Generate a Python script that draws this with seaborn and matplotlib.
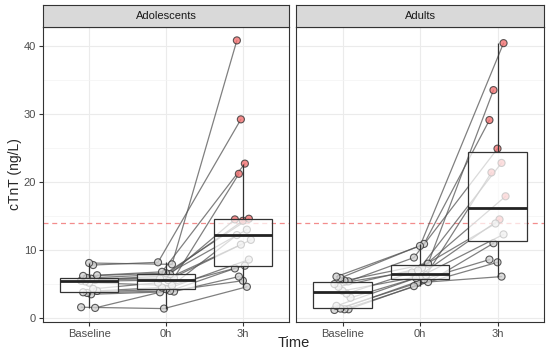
import numpy as np
import pandas as pd
import seaborn as sns
import matplotlib.pyplot as plt

groups = ['Adolescents', 'Adults']
times = ['Baseline', '0h', '3h']
cutoff = 14

# one entry per subject
ado_baseline = [1.6, 1.5, 3.5, 3.7, 3.8, 4.0, 4.3, 5.2, 5.4, 5.5, 5.6, 5.8, 5.9, 6.2, 6.3, 7.8, 8.1]
ado_0h = [1.4, 3.8, 3.9, 4.0, 4.25, 4.5, 5.2, 4.8, 5.6, 6.2, 5.8, 5.9, 6.45, 6.6, 6.8, 8.2, 7.9]
ado_3h = [4.6, 5.5, 6.1, 7.3, 8.6, 7.7, 10.8, 12.2, 11.5, 13.0, 14.3, 21.2, 14.5, 14.6, 22.7, 29.2, 40.8]

adu_baseline = [1.2, 1.3, 1.3, 1.4, 1.8, 3.0, 3.6, 4.0, 4.6, 5.0, 5.4, 5.5, 5.9, 6.1]
adu_0h = [5.2, 4.7, 5.3, 5.7, 6.1, 5.9, 6.7, 6.3, 7.4, 7.0, 8.9, 8.0, 10.9, 10.6]
adu_3h = [6.1, 8.2, 11.0, 8.6, 12.3, 14.5, 13.9, 21.4, 17.9, 22.8, 24.9, 33.5, 29.1, 40.4]

series = {
    'Adolescents': [ado_baseline, ado_0h, ado_3h],
    'Adults': [adu_baseline, adu_0h, adu_3h],
}

rows = []
for g in groups:
    for ti, vals in enumerate(series[g]):
        for sid, v in enumerate(vals):
            # small fixed jitter so the points do not sit on top of each other
            jit = ((sid * 7 + ti * 3) % 9 - 4) * 0.026
            rows.append(dict(group=g, subject=sid, time=times[ti], t=ti,
                             xj=ti + jit, value=v, high=v > cutoff))
df = pd.DataFrame(rows)

sns.set_theme(style='white')
plt.rcParams['font.family'] = ['Liberation Sans', 'DejaVu Sans']

fig = plt.figure(figsize=(5.5, 3.57), dpi=100)
W, H = 550, 357
panels = [(43, 246), (296, 248)]
top, bottom = 27, 322

for i, g in enumerate(groups):
    x0, w = panels[i]
    ax = fig.add_axes([x0 / W, 1 - bottom / H, w / W, (bottom - top) / H])
    d = df[df.group == g]

    sns.boxplot(data=d, x='time', y='value', order=times, width=0.75,
                color='white', linecolor='#333333', linewidth=0.9,
                showfliers=False, showcaps=False, whis=1.5,
                medianprops=dict(linewidth=2, color='#222222'),
                ax=ax, zorder=3)
    for p in ax.patches:
        p.set_facecolor((1, 1, 1, 0.72))
        p.set_edgecolor('#333333')

    ax.axhline(cutoff, color='#f07070', lw=0.9, ls=(0, (4, 3)), alpha=0.8, zorder=1)
    sns.lineplot(data=d, x='xj', y='value', units='subject', estimator=None,
                 color='#555555', alpha=0.75, lw=0.9, ax=ax, zorder=1.5,
                 legend=False)
    sns.scatterplot(data=d, x='xj', y='value', hue='high',
                    palette={False: '#d2d2d2', True: '#f47272'},
                    edgecolor='#333333', linewidth=0.8, s=26, alpha=0.8,
                    ax=ax, zorder=2, legend=False)

    ax.set_xlim(-0.6, 2.6)
    ax.set_ylim(-0.57, 42.77)
    ax.set_xticks(range(3))
    ax.set_xticklabels(times)
    ax.set_yticks([0, 10, 20, 30, 40])
    ax.set_yticks([5, 15, 25, 35], minor=True)
    ax.set_axisbelow(True)
    ax.grid(which='major', color='#ebebeb', lw=0.8)
    ax.grid(which='minor', axis='y', color='#f3f3f3', lw=0.5)
    ax.set_xlabel('')
    ax.set_ylabel('')
    for s in ax.spines.values():
        s.set_color('#333333')
        s.set_linewidth(0.8)
        s.set_visible(True)
    ax.tick_params(axis='both', which='major', length=3, width=0.8, color='#333333',
                   labelsize=8, labelcolor='#4d4d4d', pad=2, bottom=True, left=True)
    ax.tick_params(which='minor', length=0)
    if i == 1:
        ax.tick_params(axis='y', left=False, labelleft=False)

    strip = fig.add_axes([x0 / W, 1 - top / H, w / W, 22 / H])
    strip.set_facecolor('#d9d9d9')
    strip.set_xticks([])
    strip.set_yticks([])
    for s in strip.spines.values():
        s.set_color('#333333')
        s.set_linewidth(0.8)
    strip.text(0.5, 0.5, g, ha='center', va='center', fontsize=8,
               color='#1a1a1a', transform=strip.transAxes)

fig.text(294 / W, 1 - 343 / H, 'Time', ha='center', va='center', fontsize=10.5)
fig.text(15 / W, 1 - 174 / H, 'cTnT (ng/L)', ha='center', va='center',
         rotation=90, fontsize=10)

fig.savefig('out.png', dpi=100)
